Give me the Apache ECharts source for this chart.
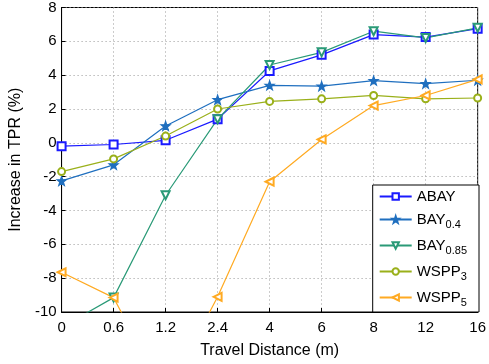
<!DOCTYPE html>
<html>
<head>
<meta charset="utf-8">
<script src="https://cdn.jsdelivr.net/npm/echarts@6/dist/echarts.min.js"></script>
<style>
  html, body { margin: 0; padding: 0; background: #fff; }
  #main { width: 489px; height: 364px; }
</style>
</head>
<body>
<div id="main"></div>
<script>
// travel distance categories (m)
const distances = ['0', '0.6', '1.2', '2.4', '4', '6', '8', '12', '16'];

// increase in TPR (%) per method
const abay = [-0.2, -0.1, 0.15, 1.4, 4.25, 5.2, 6.4, 6.25, 6.75];
const bay04 = [-2.25, -1.3, 1.0, 2.55, 3.4, 3.35, 3.68, 3.5, 3.7];
const bay085 = [-10.9, -9.15, -3.1, 1.4, 4.6, 5.35, 6.6, 6.2, 6.8];
const wspp3 = [-1.7, -0.95, 0.4, 2.0, 2.45, 2.6, 2.8, 2.6, 2.65];
const wspp5 = [-7.65, -9.15, -15, -9.1, -2.3, 0.2, 2.2, 2.8, 3.75];

const starPath = 'path://M0,-10 L2.35,-3.24 L9.51,-3.09 L3.8,1.24 L5.88,8.09 L0,4 L-5.88,8.09 L-3.8,1.24 L-9.51,-3.09 L-2.35,-3.24 Z';

var myChart = echarts.init(document.getElementById('main'));

function makeSeries(name, data, color, symbol, size, rotate) {
  return {
    name: name,
    type: 'line',
    data: data,
    symbol: symbol,
    symbolSize: size,
    symbolRotate: rotate || 0,
    showAllSymbol: true,
    lineStyle: { color: color, width: 1.2 },
    itemStyle: { color: color, borderColor: color, borderWidth: 1.2 },
    animation: false,
  };
}

var option = {
  animation: false,
  textStyle: { fontFamily: 'Liberation Sans, Arial, sans-serif' },
  grid: {
    left: 58, right: 10, top: 4, bottom: 48,
    show: true,
    borderColor: '#000',
    borderWidth: 1,
  },
  legend: {
    right: 10,
    bottom: 52,
    orient: 'vertical',
    align: 'left',
    backgroundColor: '#fff',
    borderColor: '#000',
    borderWidth: 1,
    borderRadius: 0,
    padding: [4, 12, 4, 6],
    itemWidth: 32,
    itemHeight: 8,
    itemGap: 8,
    textStyle: {
      fontSize: 15,
      color: '#000',
      rich: {
        sub: { fontSize: 11, color: '#000', padding: [10, 0, 0, 0] },
      },
    },
    formatter: function (name) {
      var m = name.match(/^(.*?)_(.*)$/);
      return m ? m[1] + '{sub|' + m[2] + '}' : name;
    },
    data: ['ABAY', 'BAY_0.4', 'BAY_0.85', 'WSPP_3', 'WSPP_5'],
  },
  xAxis: {
    type: 'category',
    data: distances,
    boundaryGap: false,
    name: 'Travel Distance (m)',
    nameLocation: 'middle',
    nameGap: 31,
    nameTextStyle: { fontSize: 16, color: '#000' },
    axisLine: { onZero: false, lineStyle: { color: '#000' } },
    axisTick: { inside: true, length: 4, lineStyle: { color: '#000' } },
    axisLabel: { fontSize: 15, color: '#000', margin: 8 },
    splitLine: { show: true, lineStyle: { color: '#999', type: [1, 3] } },
  },
  yAxis: {
    type: 'value',
    min: -10,
    max: 8,
    interval: 2,
    name: 'Increase in TPR (%)',
    nameLocation: 'middle',
    nameGap: 34,
    nameTextStyle: { fontSize: 16, color: '#000' },
    axisLine: { show: true, onZero: false, lineStyle: { color: '#000' } },
    axisTick: { show: true, inside: true, length: 4, lineStyle: { color: '#000' } },
    axisLabel: { fontSize: 15, color: '#000', margin: 5 },
    splitLine: { show: true, lineStyle: { color: '#999', type: [1, 3] } },
  },
  series: [
    makeSeries('ABAY', abay, '#1a1aff', 'emptyRect', 8),
    makeSeries('BAY_0.4', bay04, '#1f6fbf', starPath, 9),
    makeSeries('BAY_0.85', bay085, '#2a9a77', 'emptyTriangle', 8, 180),
    makeSeries('WSPP_3', wspp3, '#9ab01a', 'emptyCircle', 7),
    makeSeries('WSPP_5', wspp5, '#ffaa22', 'emptyTriangle', 8, 90),
  ],
};

myChart.setOption(option);
</script>
</body>
</html>
